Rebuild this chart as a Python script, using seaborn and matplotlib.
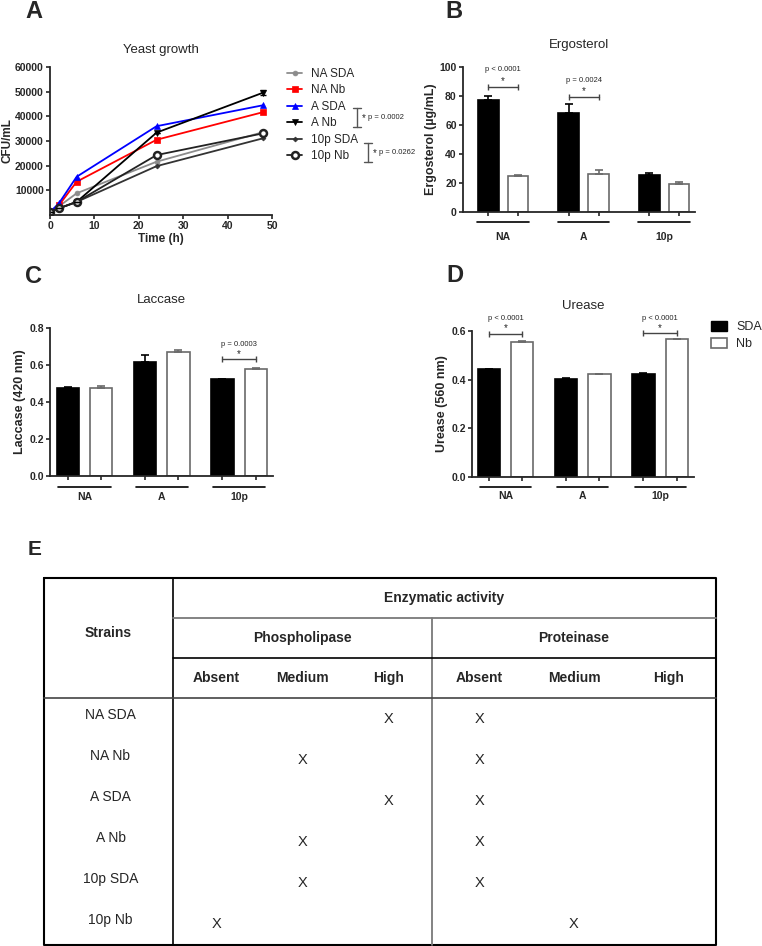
import numpy as np
import pandas as pd
import seaborn as sns
import matplotlib.pyplot as plt
from matplotlib.patches import Patch
from matplotlib.lines import Line2D

# ---- data ----
time_h = [0, 2, 6, 24, 48]
growth_labels = ['NA SDA', 'NA Nb', 'A SDA', 'A Nb', '10p SDA', '10p Nb']
na_sda = [1200, 3500, 8800, 21600, 33600]
na_nb = [1200, 3900, 13500, 30500, 41700]
a_sda = [1200, 4700, 15500, 36000, 44500]
a_nb = [1200, 2700, 5300, 33400, 49600]
p10_sda = [1200, 2700, 5300, 19800, 31100]
p10_nb = [1200, 2700, 5300, 24300, 33100]
a_nb_err = [0, 0, 0, 0, 900]

strains = ['NA', 'A', '10p']
ergo_sda = [77.5, 68.4, 25.3]
ergo_sda_err = [2.5, 5.8, 1.6]
ergo_nb = [24.7, 26.4, 19.6]
ergo_nb_err = [0.9, 2.6, 1.0]

lacc_sda = [0.473, 0.615, 0.522]
lacc_sda_err = [0.010, 0.040, 0.004]
lacc_nb = [0.475, 0.668, 0.578]
lacc_nb_err = [0.013, 0.012, 0.008]

ure_sda = [0.442, 0.403, 0.424]
ure_sda_err = [0.002, 0.002, 0.002]
ure_nb = [0.555, 0.422, 0.566]
ure_nb_err = [0.002, 0.002, 0.002]

table_strains = ['NA SDA', 'NA Nb', 'A SDA', 'A Nb', '10p SDA', '10p Nb']
levels = ['Absent', 'Medium', 'High']
phospholipase = ['High', 'Medium', 'High', 'Medium', 'Medium', 'Absent']
proteinase = ['Absent', 'Absent', 'Absent', 'Absent', 'Absent', 'Medium']

sns.set_style('ticks')
plt.rcParams['font.family'] = ['Liberation Sans', 'DejaVu Sans']
plt.rcParams['axes.linewidth'] = 1.3
plt.rcParams['xtick.major.width'] = 1.2
plt.rcParams['ytick.major.width'] = 1.2

W, H = 762, 946
fig = plt.figure(figsize=(7.62, 9.46), dpi=100)


def box(l, t, r, b):
    return [l / W, 1 - b / H, (r - l) / W, (b - t) / H]


def style_axes(ax):
    sns.despine(ax=ax)
    ax.tick_params(labelsize=7.5, length=3, pad=1.5)
    for lab in ax.get_xticklabels() + ax.get_yticklabels():
        lab.set_fontweight('bold')


# ---- A: yeast growth ----
ax_a = fig.add_axes(box(50, 67, 272, 215))
series = [na_sda, na_nb, a_sda, a_nb, p10_sda, p10_nb]
colors = ['#8c8c8c', '#ff0000', '#0000ff', '#000000', '#333333', '#222222']
markers = ['o', 's', '^', 'v', 'D', 'o']
msizes = [3.5, 4.5, 4.5, 4, 2.5, 5]
mfaces = [None, None, None, None, None, 'white']
handles = []
for lab, vals, c, m, ms, mf in zip(growth_labels, series, colors, markers, msizes, mfaces):
    kw = dict(marker=m, markersize=ms, markeredgecolor=c, markerfacecolor=mf if mf else c,
              markeredgewidth=1.8 if mf else 0.5)
    sns.lineplot(x=time_h, y=vals, color=c, linewidth=1.3, ax=ax_a, **kw)
    handles.append(Line2D([0], [0], color=c, linewidth=1.3, **kw))
ax_a.errorbar(time_h, a_nb, yerr=a_nb_err, fmt='none', ecolor='black', elinewidth=1, capsize=2)
ax_a.set_xlim(0, 50)
ax_a.set_ylim(0, 60000)
ax_a.set_xticks(range(0, 51, 10))
ax_a.set_yticks(range(10000, 60001, 10000))
ax_a.set_xlabel('Time (h)', fontsize=8.5, fontweight='bold', labelpad=1)
ax_a.set_ylabel('CFU/mL', fontsize=8.5, fontweight='bold', labelpad=1)
ax_a.set_title('Yeast growth', fontsize=9.5, pad=10)
style_axes(ax_a)
ax_a.legend(handles=handles, labels=growth_labels, loc='upper left',
            bbox_to_anchor=(287 / W, 1 - 68 / H), bbox_transform=fig.transFigure,
            frameon=False, fontsize=8.5, handlelength=1.3, handletextpad=0.7,
            labelspacing=0.38, borderpad=0, borderaxespad=0)


# ---- bar panels ----
def bar_panel(ax, sda, sda_err, nb, nb_err, width, gap, line_half, line_y, label_y):
    df = pd.DataFrame({'strain': strains * 2,
                       'medium': ['SDA'] * 3 + ['Nb'] * 3,
                       'value': sda + nb})
    sns.barplot(data=df, x='strain', y='value', hue='medium', order=strains,
                hue_order=['SDA', 'Nb'], palette={'SDA': 'black', 'Nb': 'white'},
                width=width, gap=gap, errorbar=None, legend=False,
                linewidth=1.2, edgecolor='black', ax=ax)
    centers = []
    for cont, errs, ec in zip(ax.containers, [sda_err, nb_err], ['black', '#6a6a6a']):
        for bar, e in zip(cont, errs):
            bar.set_edgecolor(ec)
            x = bar.get_x() + bar.get_width() / 2
            centers.append(x)
            ax.errorbar(x, bar.get_height(), yerr=[[0], [e]], fmt='none', ecolor=ec,
                        elinewidth=1.2, capsize=3, capthick=1.2)
    centers = sorted(centers)
    ax.set_xticks(centers)
    ax.set_xticklabels([''] * len(centers))
    ax.set_xlabel('')
    tr = ax.get_xaxis_transform()
    for i, s in enumerate(strains):
        ax.plot([i - line_half, i + line_half], [line_y, line_y], color='black',
                linewidth=1.2, transform=tr, clip_on=False)
        ax.text(i, label_y, s, transform=tr, ha='center', va='center',
                fontsize=7.5, fontweight='bold')
    return centers


def sig(ax, x1, x2, y, text, dy_star, dy_text):
    ax.plot([x1, x2], [y, y], color='#444444', linewidth=1, marker='|',
            markersize=5, markeredgewidth=1, clip_on=False)
    ax.text((x1 + x2) / 2, y + dy_star, '*', ha='center', va='center',
            fontsize=7, clip_on=False)
    ax.text((x1 + x2) / 2, y + dy_text, text, ha='center', va='center',
            fontsize=5.5, clip_on=False)


# B: ergosterol
ax_b = fig.add_axes(box(463, 67, 695, 212))
cb = bar_panel(ax_b, ergo_sda, ergo_sda_err, ergo_nb, ergo_nb_err, 0.745, 0.30,
               0.32, -0.07, -0.17)
ax_b.set_xlim(-0.497, 2.385)
ax_b.set_ylim(0, 100)
ax_b.set_yticks(range(0, 101, 20))
ax_b.set_ylabel('Ergosterol (µg/mL)', fontsize=9, fontweight='bold', labelpad=2)
ax_b.set_title('Ergosterol', fontsize=9.5, pad=14)
style_axes(ax_b)
sig(ax_b, cb[0], cb[1], 86, 'p < 0.0001', 4.5, 12)
sig(ax_b, cb[2], cb[3], 79, 'p = 0.0024', 4.5, 12)

# C: laccase
ax_c = fig.add_axes(box(50, 328, 273, 476))
cc = bar_panel(ax_c, lacc_sda, lacc_sda_err, lacc_nb, lacc_nb_err, 0.86, 0.33,
               0.34, -0.074, -0.14)
ax_c.set_xlim(-0.45, 2.44)
ax_c.set_ylim(0, 0.8)
ax_c.set_yticks(np.arange(0, 0.81, 0.2))
ax_c.yaxis.set_major_formatter(plt.FormatStrFormatter('%.1f'))
ax_c.set_ylabel('Laccase (420 nm)', fontsize=9, fontweight='bold', labelpad=2)
ax_c.set_title('Laccase', fontsize=9.5, pad=18)
style_axes(ax_c)
sig(ax_c, cc[4], cc[5], 0.632, 'p = 0.0003', 0.028, 0.08)

# D: urease
ax_d = fig.add_axes(box(472, 331, 694, 477))
cd = bar_panel(ax_d, ure_sda, ure_sda_err, ure_nb, ure_nb_err, 0.86, 0.33,
               0.33, -0.066, -0.13)
ax_d.set_xlim(-0.435, 2.44)
ax_d.set_ylim(0, 0.6)
ax_d.set_yticks(np.arange(0, 0.61, 0.2))
ax_d.yaxis.set_major_formatter(plt.FormatStrFormatter('%.1f'))
ax_d.set_ylabel('Urease (560 nm)', fontsize=9, fontweight='bold', labelpad=2)
ax_d.set_title('Urease', fontsize=9.5, pad=16)
style_axes(ax_d)
sig(ax_d, cd[0], cd[1], 0.588, 'p < 0.0001', 0.022, 0.062)
sig(ax_d, cd[4], cd[5], 0.59, 'p < 0.0001', 0.022, 0.062)
ax_d.legend(handles=[Patch(facecolor='black', edgecolor='black'),
                     Patch(facecolor='white', edgecolor='#6a6a6a', linewidth=1.2)],
            labels=['SDA', 'Nb'], loc='upper left',
            bbox_to_anchor=(711 / W, 1 - 321 / H), bbox_transform=fig.transFigure,
            frameon=False, fontsize=9, handlelength=1.3, handleheight=0.9,
            handletextpad=0.7, labelspacing=0.35, borderpad=0, borderaxespad=0)

# ---- overlay: panel letters, brackets, table ----
ov = fig.add_axes([0, 0, 1, 1])
ov.set_xlim(0, W)
ov.set_ylim(H, 0)
ov.axis('off')
ov.patch.set_alpha(0)

for letter, x, y, fs in [('A', 34, 12, 17), ('B', 454, 12, 17), ('C', 34, 276, 17),
                         ('D', 455, 275, 17), ('E', 35, 549, 15)]:
    ov.text(x, y, letter, ha='center', va='center', fontsize=fs, fontweight='bold')

# significance brackets beside legend A
for bx, y1, y2, txt in [(357, 108, 127, 'p = 0.0002'), (368, 143, 162, 'p = 0.0262')]:
    ov.plot([bx, bx], [y1, y2], color='#555555', linewidth=1)
    ov.plot([bx - 4, bx + 4], [y1, y1], color='#555555', linewidth=1)
    ov.plot([bx - 4, bx + 4], [y2, y2], color='#555555', linewidth=1)
    ov.text(bx + 5, (y1 + y2) / 2 + 1, '*', ha='left', va='center', fontsize=7)
    ov.text(bx + 11, (y1 + y2) / 2, txt, ha='left', va='center', fontsize=5.5)

# table E
t_left, t_right, c_strain, c_mid = 44, 716, 173, 432
t_top, r1, r2, r3, t_bot = 578, 618, 658, 698, 945
gray = '#7a7a7a'
ov.plot([t_left, t_right, t_right, t_left, t_left], [t_top, t_top, t_bot, t_bot, t_top],
        color='black', linewidth=1.5)
ov.plot([c_strain, c_strain], [t_top, t_bot], color='black', linewidth=1.2)
ov.plot([c_mid, c_mid], [r1, t_bot], color=gray, linewidth=1.3)
ov.plot([c_strain, t_right], [r1, r1], color=gray, linewidth=1.3)
ov.plot([c_strain, t_right], [r2, r2], color='black', linewidth=1.2)
ov.plot([t_left, t_right], [r3, r3], color='#444444', linewidth=1.2)

hdr = dict(ha='center', va='center', fontsize=10, fontweight='bold')
ov.text((t_left + c_strain) / 2, 633, 'Strains', **hdr)
ov.text((c_strain + t_right) / 2, (t_top + r1) / 2, 'Enzymatic activity', **hdr)
ov.text((c_strain + c_mid) / 2, (r1 + r2) / 2, 'Phospholipase', **hdr)
ov.text((c_mid + t_right) / 2, (r1 + r2) / 2, 'Proteinase', **hdr)
ph_cols = [c_strain + (c_mid - c_strain) * (k + 0.5) / 3 for k in range(3)]
pr_cols = [c_mid + (t_right - c_mid) * (k + 0.5) / 3 for k in range(3)]
for lv, xp, xq in zip(levels, ph_cols, pr_cols):
    ov.text(xp, (r2 + r3) / 2, lv, **hdr)
    ov.text(xq, (r2 + r3) / 2, lv, **hdr)

row_h = (t_bot - r3) / len(table_strains)
for i, (s, ph, pr) in enumerate(zip(table_strains, phospholipase, proteinase)):
    yc = r3 + (i + 0.5) * row_h
    ov.text((t_left + c_strain) / 2 + 2, yc - 4, s, ha='center', va='center', fontsize=10)
    ov.text(ph_cols[levels.index(ph)], yc, 'X', ha='center', va='center', fontsize=10.5)
    ov.text(pr_cols[levels.index(pr)], yc, 'X', ha='center', va='center', fontsize=10.5)

fig.savefig('out.png', dpi=100, facecolor='white')
